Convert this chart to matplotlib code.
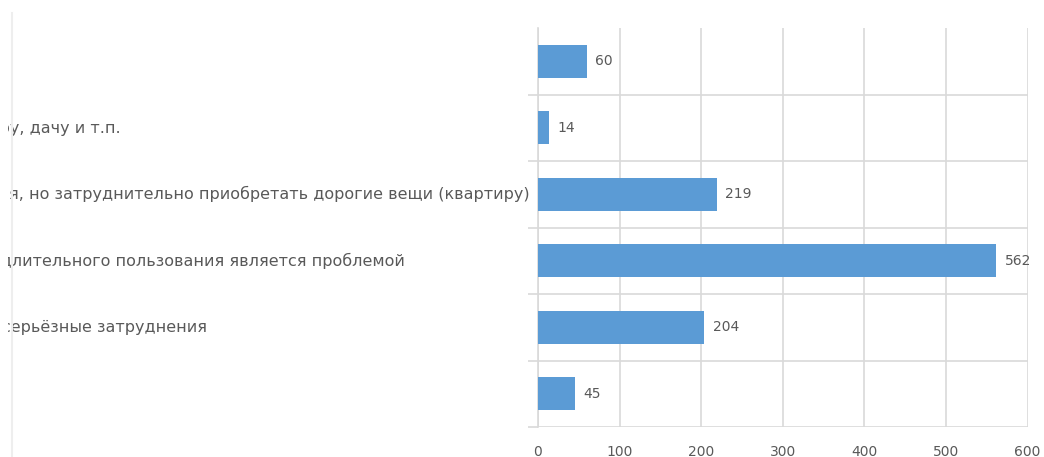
import numpy as np
import matplotlib.pyplot as plt
from matplotlib.lines import Line2D
from matplotlib.patches import Rectangle

# answers, top to bottom
labels = [
    "Затрудняюсь ответить",
    "Денег хватает на всё, можем купить и автомобиль, квартиру, дачу и т.п.",
    "Денег хватает на покупку товаров длительного пользования, но затруднительно приобретать дорогие вещи (квартиру)",
    "Денег хватает на продукты и одежду, но покупка товаров длительного пользования является проблемой",
    "Денег хватает на продукты, но покупка одежды вызывает серьёзные затруднения",
    "Денег не хватает даже на еду",
]
counts = [60, 14, 219, 562, 204, 45]
xticks = [0, 100, 200, 300, 400, 500, 600]

bar_color = '#5B9BD5'
grid_color = '#D9D9D9'
text_color = '#595959'

W, H = 1044, 457
fig = plt.figure(figsize=(W / 100, H / 100), dpi=100)
ax = fig.add_axes([538 / W, 30 / H, (1027.5 - 538) / W, (427 - 28) / H])

n = len(labels)
y = np.arange(n)
ax.barh(y, counts, height=0.5, color=bar_color, zorder=3)
ax.set_ylim(n - 0.5, -0.5)
ax.set_xlim(0, 600)

# value labels
for yi, v in zip(y, counts):
    ax.annotate(str(v), (v, yi), xytext=(6, 0), textcoords='offset points',
                va='center', ha='left', fontsize=10, color=text_color)

# vertical gridlines
ax.set_xticks(xticks)
ax.set_xticklabels([str(t) for t in xticks])
ax.grid(axis='x', color=grid_color, lw=1.2, zorder=0)
ax.tick_params(axis='x', length=0, pad=13, labelsize=10, labelcolor=text_color)

# category separators, bottom edge included, top edge left open
ax.set_yticks([])
ax.set_yticks(list(y[1:] - 0.5) + [n - 0.5], minor=True)
ax.grid(axis='y', which='minor', color=grid_color, lw=1.2, zorder=0)
ax.tick_params(axis='y', which='minor', length=7, width=1.2, color=grid_color)

for side in ['top', 'right', 'bottom']:
    ax.spines[side].set_visible(False)
ax.spines['left'].set_color(grid_color)
ax.spines['left'].set_linewidth(1.2)

# category names, left-aligned, running off the left edge
clip = Rectangle((8, 0), W, H, transform=None)
texts = []
for yi, lab in zip(y, labels):
    t = ax.text(0, yi, lab, transform=ax.get_yaxis_transform(),
                ha='left', va='center', fontsize=11.5, color=text_color,
                clip_on=True)
    t.set_clip_path(clip)
    texts.append(t)

# shift the names so the longest one ends just before the axis
renderer = fig.canvas.get_renderer()
widths = [t.get_window_extent(renderer).width for t in texts]
x0 = (530 - 538 - max(widths)) / ((1027.5 - 538))
for t in texts:
    t.set_x(x0)

fig.add_artist(Line2D([12 / W, 12 / W], [0, (H - 13) / H], color='#EEEEEE', lw=1.5))

fig.savefig('out.png', dpi=100, facecolor='white')
